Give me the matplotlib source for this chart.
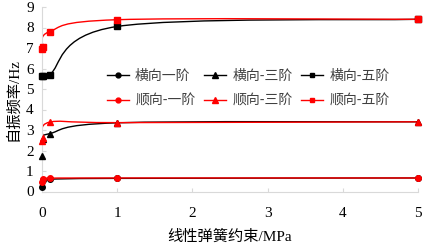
import numpy as np
import matplotlib.pyplot as plt
from matplotlib.path import Path
from matplotlib.patches import PathPatch
from matplotlib.lines import Line2D

plt.rcParams['font.family'] = ['Liberation Serif', 'Noto Sans CJK SC']

x = [0, 0.01, 0.1, 1, 5]

heng_1 = [0.2, 0.55, 0.6, 0.64, 0.66]
heng_3 = [1.75, 2.55, 2.82, 3.35, 3.4]
heng_5 = [5.65, 5.65, 5.7, 8.05, 8.4]
shun_1 = [0.46, 0.62, 0.65, 0.66, 0.66]
shun_3 = [2.48, 2.62, 3.38, 3.36, 3.4]
shun_5 = [6.95, 7.05, 7.8, 8.38, 8.4]

labels = ['横向一阶', '横向-三阶', '横向-五阶', '顺向-一阶', '顺向-三阶', '顺向-五阶']


def smooth_path(xs, ys):
    # excel-style smoothed line: bezier through the points
    p = np.column_stack([xs, ys]).astype(float)
    n = len(p)
    verts = [p[0]]
    codes = [Path.MOVETO]
    for i in range(n - 1):
        p0 = p[max(i - 1, 0)]
        p1 = p[i]
        p2 = p[i + 1]
        p3 = p[min(i + 2, n - 1)]
        c1 = p1 + (p2 - p0) / 6
        c2 = p2 - (p3 - p1) / 6
        verts += [c1, c2, p2]
        codes += [Path.CURVE4] * 3
    return Path(verts, codes)


fig = plt.figure(figsize=(4.25, 2.46), dpi=100)
ax = fig.add_axes([42 / 425, (246 - 191.5) / 246, 376 / 425, 184.5 / 246])

series = [
    (heng_1, 'black', 'o', 4),
    (heng_3, 'black', '^', 4.5),
    (heng_5, 'black', 's', 4),
    (shun_1, 'red', 'o', 4),
    (shun_3, 'red', '^', 4.5),
    (shun_5, 'red', 's', 4),
]

handles = []
for (ys, c, m, ms), lab in zip(series, labels):
    ax.add_patch(PathPatch(smooth_path(x, ys), facecolor='none', edgecolor=c, lw=1.0, zorder=2))
    ax.plot(x, ys, ls='none', marker=m, color=c, ms=ms, zorder=3, clip_on=False)
    handles.append(Line2D([], [], color=c, lw=1.0, marker=m, ms=ms - 0.5, label=lab))

order = [0, 3, 1, 4, 2, 5]
leg = ax.legend([handles[i] for i in order], [labels[i] for i in order], ncol=3,
                loc='upper left', bbox_to_anchor=(0.172, 0.665), frameon=False,
                prop={'family': ['Noto Sans CJK SC'], 'size': 10},
                handlelength=1.6, handletextpad=0.45, columnspacing=0.6,
                labelspacing=0.8, borderaxespad=0, borderpad=0)
for t in leg.get_texts():
    t.set_color('#404040')

ax.set_xlim(0, 5)
ax.set_ylim(0, 9)
ax.set_xticks(range(6))
ax.set_yticks(range(10))
for s in ['top', 'right']:
    ax.spines[s].set_visible(False)
for s in ['left', 'bottom']:
    ax.spines[s].set_color('#d9d9d9')
ax.tick_params(direction='in', length=3, color='#d9d9d9', labelsize=11)
ax.tick_params(axis='x', pad=11)
ax.tick_params(axis='y', pad=6)

ax.set_xlabel('线性弹簧约束/MPa', fontsize=11, labelpad=7)
ax.set_ylabel('自振频率/Hz', fontsize=11, labelpad=4)

fig.savefig('out.png', dpi=100)
